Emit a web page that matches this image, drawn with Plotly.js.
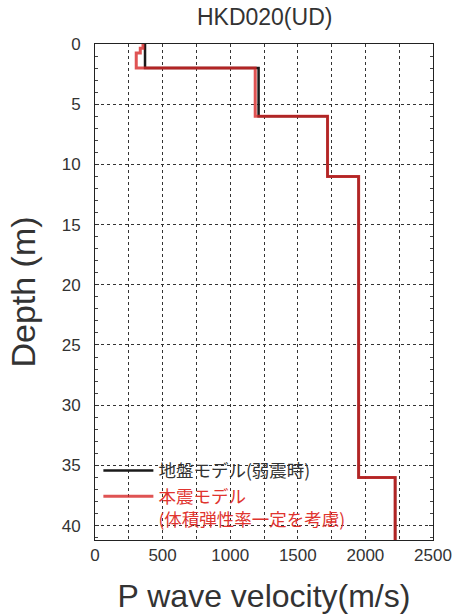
<!DOCTYPE html>
<html>
<head>
<meta charset="utf-8">
<script src="https://cdn.plot.ly/plotly-3.0.1.min.js"></script>
<style>html,body{margin:0;padding:0;background:#fff;}#chart{width:454px;height:614px;}</style>
</head>
<body>
<div id="chart"></div>
<script>
// Layer boundaries (m) and P-wave velocities (m/s)
const weakDepths = [0, 2, 6, 11, 36, 41.5];
const weakVp = [370, 1210, 1720, 1950, 2220];
const mainDepths = [0, 0.35, 0.75, 2, 6, 11, 36, 41.5];
const mainVp = [355, 335, 305, 1185, 1720, 1950, 2220];
const xTickVals = [0, 500, 1000, 1500, 2000, 2500];
const yTickVals = [0, 5, 10, 15, 20, 25, 30, 35, 40];

function stepPath(depths, vp) {
  const x = [], y = [];
  for (let i = 0; i < vp.length; i++) {
    x.push(vp[i], vp[i]);
    y.push(depths[i], depths[i + 1]);
  }
  return {x, y};
}
const w = stepPath(weakDepths, weakVp);
const m = stepPath(mainDepths, mainVp);

const red = '#e0342f';
const traces = [
  {x: w.x, y: w.y, mode: 'lines', name: '地盤モデル(弱震時)',
   line: {color: '#1a1a1a', width: 2.5}},
  {x: m.x, y: m.y, mode: 'lines',
   name: '<span style="color:' + red + '">本震モデル</span><br><span style="color:' + red + '">(体積弾性率一定を考慮)</span>',
   line: {color: 'rgba(215,40,40,0.8)', width: 3}}
];

const layout = {
  width: 454, height: 614,
  margin: {l: 95, r: 21, t: 44, b: 74},
  paper_bgcolor: '#fff', plot_bgcolor: '#fff',
  font: {family: 'Liberation Sans, Arial, sans-serif', color: '#333', size: 17},
  title: {text: 'HKD020(UD)', font: {size: 23, color: '#333'}, x: 0.583, xanchor: 'center', y: 0.972, yanchor: 'middle'},
  showlegend: true,
  legend: {x: 0.01, y: 0.176, xanchor: 'left', yanchor: 'top', bgcolor: 'rgba(0,0,0,0)',
           font: {size: 17.5, color: '#333', family: 'Noto Sans CJK JP, sans-serif'},
           itemwidth: 50, tracegroupgap: 0, valign: 'top'},
  xaxis: {
    range: [0, 2500], tickvals: xTickVals, ticktext: xTickVals.map(String),
    showline: true, linecolor: '#222', linewidth: 1, mirror: true,
    showgrid: true, gridcolor: '#333', griddash: 'dot', gridwidth: 1,
    ticks: '', zeroline: false, tickfont: {size: 17, color: '#333'},
    minor: {dtick: 250, showgrid: true, gridcolor: '#333', griddash: 'dot', gridwidth: 1},
    title: {text: 'P wave velocity(m/s)', font: {size: 32, color: '#333'}, standoff: 21}
  },
  yaxis: {
    range: [41.2, 0], tickvals: yTickVals, ticktext: yTickVals.map(String),
    showline: true, linecolor: '#222', linewidth: 1, mirror: 'ticks',
    showgrid: true, gridcolor: '#333', griddash: 'dot', gridwidth: 1,
    ticks: 'inside', ticklen: 4, tickcolor: '#333',
    zeroline: false, tickfont: {size: 17, color: '#333'}, ticklabelstandoff: 10,
    minor: {dtick: 1, ticks: 'inside', ticklen: 3, tickcolor: '#444', showgrid: false},
    title: {text: 'Depth (m)', font: {size: 34, color: '#333'}, standoff: 15}
  }
};

Plotly.newPlot('chart', traces, layout, {displayModeBar: false, staticPlot: true});
</script>
</body>
</html>
